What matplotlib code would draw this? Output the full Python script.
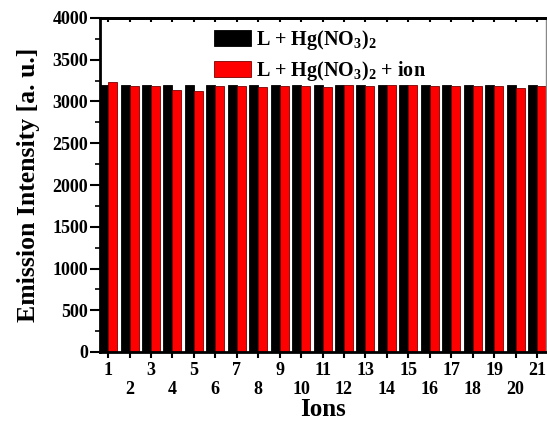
import numpy as np
import matplotlib.pyplot as plt
from matplotlib.ticker import MultipleLocator

ions = np.arange(1, 22)
# L + Hg(NO3)2
black_vals = [3200] * 21
# L + Hg(NO3)2 + ion
red_vals = [3230, 3190, 3180, 3140, 3130, 3190, 3185, 3170, 3190, 3185, 3175,
            3195, 3190, 3195, 3195, 3190, 3190, 3180, 3190, 3160, 3185]

plt.rcParams['font.family'] = ['Liberation Serif', 'DejaVu Serif']
plt.rcParams['font.weight'] = 'bold'
plt.rcParams['mathtext.fontset'] = 'custom'
plt.rcParams['mathtext.rm'] = 'Liberation Serif:bold'
plt.rcParams['mathtext.bf'] = 'Liberation Serif:bold'

fig = plt.figure(figsize=(5.47, 4.26), dpi=100)
ax = fig.add_axes([100/547, 1 - 352/426, 446/547, 334/426])

w = 0.42
ax.bar(ions - w/2, black_vals, w, color='black', edgecolor='black', lw=0.6,
       label=r'L + Hg(NO$_3$)$_2$')
ax.bar(ions + w/2, red_vals, w, color='#ff0000', edgecolor='#7a0000', lw=0.6,
       label=r'L + Hg(NO$_3$)$_2$ + ion')

ax.set_xlim(0.62, 21.42)
ax.set_ylim(0, 4000)
ax.yaxis.set_major_locator(MultipleLocator(500))
ax.yaxis.set_minor_locator(MultipleLocator(250))

odd = ions[::2]
even = ions[1::2]
ax.set_xticks(odd)
ax.set_xticklabels([str(i) for i in odd], fontweight='bold')
ax.set_xticks(even, minor=True)
ax.set_xticklabels([str(i) for i in even], minor=True, fontweight='bold')
for lab in ax.get_yticklabels():
    lab.set_fontweight('bold')
ax.tick_params(axis='x', which='major', direction='out', length=4, width=1.5,
               pad=3, labelsize=13)
ax.tick_params(axis='x', which='minor', direction='out', length=4, width=1.5,
               pad=17, labelsize=13)
ax.tick_params(axis='y', which='major', direction='out', length=7, width=1.5,
               labelsize=13, pad=1.5)
ax.tick_params(axis='y', which='minor', direction='out', length=3.5, width=1.2)

top = ax.secondary_xaxis('top')
top.set_xticks(ions)
top.set_xticklabels([])
top.tick_params(direction='in', length=3, width=1.5)

for s in ['left', 'bottom', 'top']:
    ax.spines[s].set_linewidth(2)
ax.spines['right'].set_color('#888888')
ax.spines['right'].set_linewidth(1)
top.spines['top'].set_linewidth(2)

ax.set_xlabel('Ions', fontsize=18, fontweight='bold', labelpad=0)
ax.set_ylabel('Emission Intensity [a. u.]', fontsize=18.5, fontweight='bold',
              labelpad=9)

leg = ax.legend(loc='upper left', bbox_to_anchor=(0.215, 1.025), frameon=False,
                prop={'size': 14.5, 'weight': 'bold'}, handlelength=1.85,
                handleheight=0.85, handletextpad=0.25, labelspacing=0.35)

plt.savefig('out.png', dpi=100)
